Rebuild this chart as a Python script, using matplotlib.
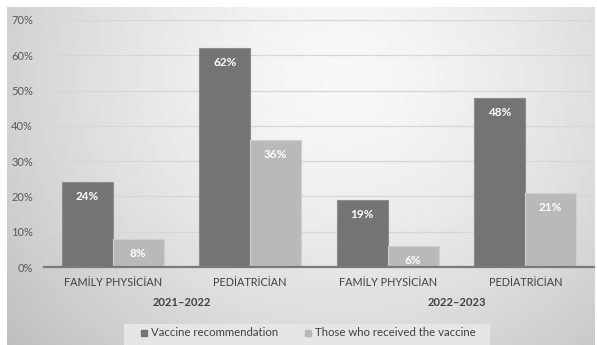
import numpy as np
import matplotlib
matplotlib.use("Agg")
import matplotlib.pyplot as plt
from matplotlib.patches import Rectangle
from matplotlib.lines import Line2D
import matplotlib.transforms as mtrans

categories = ["FAMİLY PHYSİCİAN", "PEDİATRİCİAN", "FAMİLY PHYSİCİAN", "PEDİATRİCİAN"]
years = ["2021–2022", "2022–2023"]
recommendation = [24, 62, 19, 48]
received = [8, 36, 6, 21]
series_names = ["Vaccine recommendation", "Those who received the vaccine"]
yticks = [0, 10, 20, 30, 40, 50, 60, 70]

plt.rcParams['font.family'] = ['Lato', 'DejaVu Sans']

W, H = 597, 345
fig = plt.figure(figsize=(W / 100, H / 100), dpi=100)
fig.patch.set_facecolor("white")

# background gradient panel
bg = fig.add_axes([7 / W, 0, (W - 9) / W, (H - 7) / H], zorder=-5)
yy, xx = np.mgrid[0:200, 0:300]
cx, cy = 170, 40
d = np.sqrt(((xx - cx) / 185.0) ** 2 + ((yy - cy) / 200.0) ** 2)
val = 0.975 - 0.17 * np.clip(d, 0, 1.3) ** 1.5
img = np.dstack([val, val, val])
bg.imshow(img, aspect="auto", extent=[0, 1, 0, 1], origin="upper")
bg.set_xlim(0, 1)
bg.set_ylim(0, 1)
bg.axis("off")

ax = fig.add_axes([44 / W, 78 / H, 550 / W, 247 / H])
ax.patch.set_alpha(0)

x = np.arange(len(categories))
w = 0.37
dark = "#747474"
light = "#b9b9b9"
b1 = ax.bar(x - w / 2, recommendation, w, color=dark, edgecolor="#8c8c8c", linewidth=0.8, zorder=3)
b2 = ax.bar(x + w / 2, received, w, color=light, edgecolor="#cfcfcf", linewidth=0.8, zorder=3)

for bars, vals in ((b1, recommendation), (b2, received)):
    for r, v in zip(bars, vals):
        ax.annotate(f"{v}%", (r.get_x() + r.get_width() / 2, v), xytext=(0, -10.5),
                    textcoords="offset points", ha="center", va="center",
                    color="white", fontsize=8.5, fontweight="bold", zorder=4)

ax.set_xlim(-0.5, len(categories) - 0.5)
ax.set_ylim(0, 70)
ax.set_yticks(yticks)
ax.set_yticklabels([f"{t}%" for t in yticks], fontsize=8, color="#595959")
ax.set_xticks(x)
ax.set_xticklabels(categories, fontsize=7.8, color="#404040")
ax.tick_params(axis="both", length=0)
ax.tick_params(axis="x", pad=7)
ax.tick_params(axis="y", pad=8)
for s in ["top", "right", "left"]:
    ax.spines[s].set_visible(False)
ax.spines["bottom"].set_color("#7a7a7a")
ax.spines["bottom"].set_linewidth(1.6)
ax.spines["bottom"].set_zorder(5)
ax.yaxis.grid(True, color="#d6d6d6", linewidth=0.9, zorder=0)
ax.set_axisbelow(True)

trans = mtrans.blended_transform_factory(ax.transData, fig.transFigure)
for i, yr in enumerate(years):
    ax.text(2 * i + 0.5, 1 - 302 / H, yr, transform=trans, ha="center", va="center",
            fontsize=8, fontweight="bold", color="#404040")

# legend box
fig.patches.append(Rectangle((124 / W, 0), (490 - 124) / W, 21 / H, transform=fig.transFigure,
                             facecolor="#e6e6e6", edgecolor="none", zorder=1))
handles = [Line2D([], [], marker="s", linestyle="none", markersize=4.5, color=dark),
           Line2D([], [], marker="s", linestyle="none", markersize=4.5, color=light)]
fig.legend(handles, series_names, loc="center", bbox_to_anchor=(307 / W, 1 - 333 / H),
           ncol=2, frameon=False, fontsize=8.2, handletextpad=0.1, columnspacing=2.2,
           labelcolor="#404040", handlelength=1.0)

fig.savefig("out.png", dpi=100)
